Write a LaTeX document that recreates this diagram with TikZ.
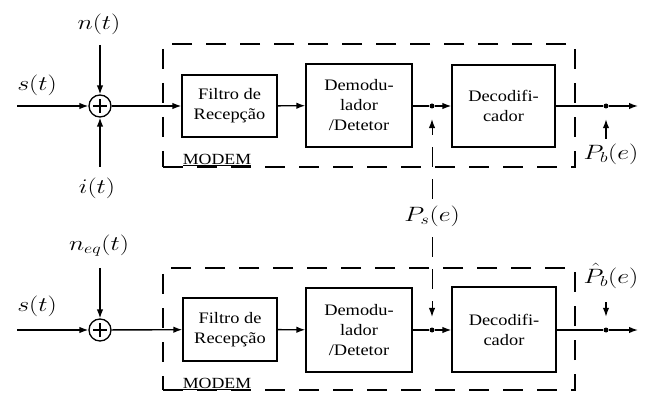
\documentclass[tikz,border=0pt]{standalone}
\usepackage{fontspec}
\setmainfont{Liberation Serif}[FakeStretch=1.15]
\usepackage{graphicx}
\usetikzlibrary{arrows.meta}
\newcommand{\mlab}[1]{\scalebox{1.25}[1]{$#1$}}
\begin{document}
\begin{tikzpicture}[x=1pt,y=-1pt,
  line width=1.4pt, >={Latex[length=9pt,width=6.5pt]},
  blk/.style={draw, line width=1.3pt, align=center, font=\fontsize{16}{20}\selectfont, inner sep=0pt},
  mlabel/.style={inner sep=0pt, font=\fontsize{21.5}{25}\selectfont},
  modem/.style={draw, dash pattern=on 20pt off 14pt, line width=1.2pt, inner sep=0pt},
  sumc/.style={draw, circle, minimum size=22pt, inner sep=0pt, line width=1.3pt},
  dotn/.style={circle, fill, minimum size=5pt, inner sep=0pt},
  probe/.style={dash pattern=on 20pt off 12pt, line width=1pt},
  modemlab/.style={inner sep=0pt, font=\fontsize{15.5}{18}\selectfont}]
\useasboundingbox (0,0) rectangle (645,395);

% ---------- top chain ----------
\node[modem, minimum width=412pt, minimum height=123pt] (m1) at (369,105.5) {};
\node[modemlab] (ml1) at (217,160) {\underline{MODEM}};
\node[sumc] (sum1) at (100,106) {};
\draw ([xshift=-7pt]sum1.center) -- ([xshift=7pt]sum1.center);
\draw ([yshift=-7pt]sum1.center) -- ([yshift=7pt]sum1.center);
\node[blk, minimum width=95pt, minimum height=62pt] (f1) at (229.5,106) {Filtro de\\Recepção};
\node[blk, minimum width=106pt, minimum height=83pt] (d1) at (359,105.5) {Demodu-\\lador\\/Detetor};
\node[blk, minimum width=103pt, minimum height=82pt] (c1) at (503.5,106) {Decodifi-\\cador};
\node[dotn] (p1) at (432,106) {};
\node[dotn] (q1) at (606,106) {};
\coordinate (in1) at (17,106);
\coordinate (out1) at (638,106);
\coordinate (n1s) at (100,45);
\coordinate (i1s) at (100,167);
\coordinate (pb1s) at (606,139);

\node[mlabel] (s1) at (37,85) {\mlab{s(t)}};
\node[mlabel] (n1) at (99,24) {\mlab{n(t)}};
\node[mlabel] (i1) at (97,188) {\mlab{i(t)}};
\node[mlabel] (Pb) at (611,154) {\mlab{P_b(e)}};

\draw[->] (in1) -- (sum1);
\draw[->] (n1s) -- (sum1);
\draw[->] (i1s) -- (sum1);
\draw[->] (sum1) -- (f1);
\draw[->] (f1) -- (d1);
\draw (d1.east |- p1) -- (p1);
\draw[->] (p1) -- (c1.west |- p1);
\draw (c1.east |- q1) -- (q1);
\draw[->] (q1) -- (out1);
\draw[->, shorten >=10pt] (pb1s) -- (q1);

% ---------- bottom chain ----------
\node[modem, minimum width=412pt, minimum height=122pt] (m2) at (369,329) {};
\node[modemlab] (ml2) at (217,384) {\underline{MODEM}};
\node[sumc] (sum2) at (100,330) {};
\draw ([xshift=-7pt]sum2.center) -- ([xshift=7pt]sum2.center);
\draw ([yshift=-7pt]sum2.center) -- ([yshift=7pt]sum2.center);
\node[blk, minimum width=94pt, minimum height=63pt] (f2) at (230,329.5) {Filtro de\\Recepção};
\node[blk, minimum width=106pt, minimum height=84pt] (d2) at (359,330) {Demodu-\\lador\\/Detetor};
\node[blk, minimum width=104pt, minimum height=85pt] (c2) at (504,329.5) {Decodifi-\\cador};
\node[dotn] (p2) at (432,330) {};
\node[dotn] (q2) at (606,330) {};
\coordinate (in2) at (17,330);
\coordinate (out2) at (638,330);
\coordinate (neqs) at (100,268);
\coordinate (pb2s) at (606,302);

\node[mlabel] (s2) at (37,306) {\mlab{s(t)}};
\node[mlabel] (neq) at (99,246) {\mlab{n_{eq}(t)}};
\node[mlabel] (Pbh) at (611,276) {\mlab{\hat{P}_b(e)}};
\node[mlabel] (Ps) at (432,216) {\mlab{P_s(e)}};

\draw[->] (in2) -- (sum2);
\draw[->] (neqs) -- (sum2);
\draw[->] (sum2) -- (f2);
\draw[->] (f2) -- (d2);
\draw (d2.east |- p2) -- (p2);
\draw[->] (p2) -- (c2.west |- p2);
\draw (c2.east |- q2) -- (q2);
\draw[->] (q2) -- (out2);
\draw[->, shorten >=10pt] (pb2s) -- (q2);

% ---------- P_s(e) probes ----------
\draw[probe, ->, shorten <=6pt, shorten >=10pt] (Ps.north) -- (p1);
\draw[probe, ->, shorten <=10pt, shorten >=10pt] (Ps.south) -- (p2);
\end{tikzpicture}
\end{document}
